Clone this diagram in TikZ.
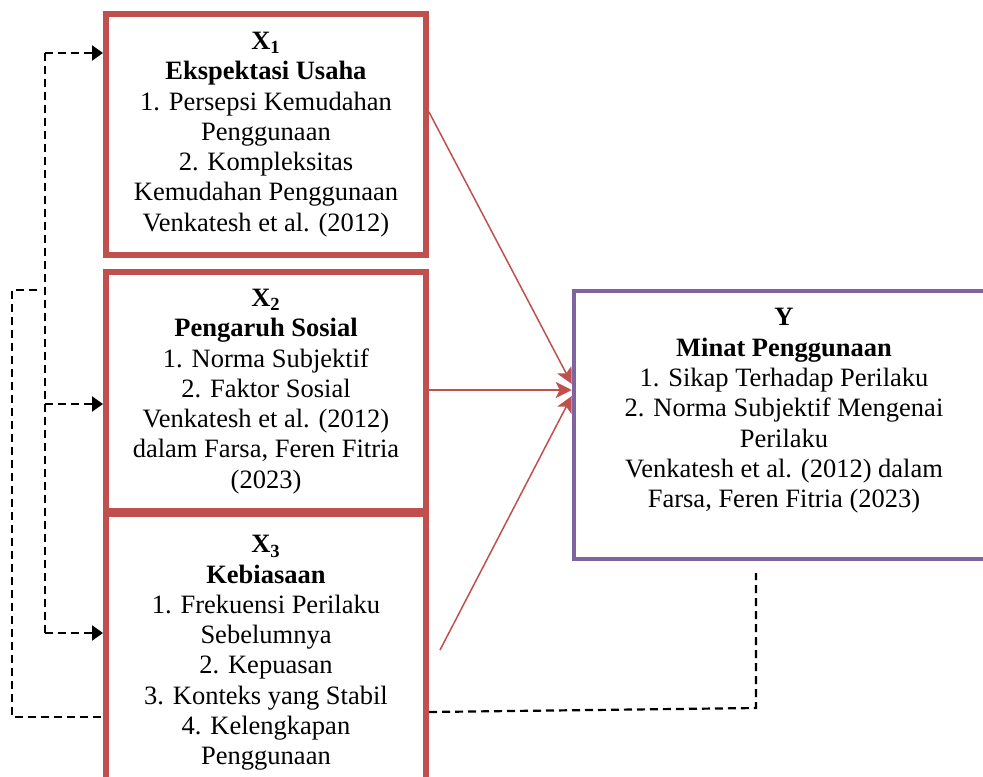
\documentclass[tikz,border=0pt]{standalone}
\usepackage{fontspec}
\setmainfont{Liberation Serif}
\usepackage{tikz}
\usetikzlibrary{arrows.meta}

\definecolor{boxred}{HTML}{C0504D}
\definecolor{boxpurple}{HTML}{8064A2}

\begin{document}
\begin{tikzpicture}[x=0.5pt,y=-0.5pt,
	txt/.style={align=center,font=\fontsize{13.25}{15.15}\selectfont},
	varbox/.style={txt,draw=boxred,line width=3pt,minimum width=160pt,inner sep=0pt},
	ybox/.style={draw=boxpurple,line width=2.25pt,minimum width=210pt,minimum height=134pt},
	link/.style={draw=boxred,line width=0.75pt,-{Stealth[length=8pt,width=8pt,inset=2pt]}},
	back/.style={dash pattern=on 4pt off 2.5pt,line width=1.1pt},
	backarrow/.style={back,-{Triangle[length=5.5pt,width=7.5pt]}}]
	\useasboundingbox (0,0) rectangle (983,776);
	\clip (0,0) rectangle (983,776);
	% variabel bebas
	\node[varbox,minimum height=120.5pt] (X1) at (266,134.5) {\textbf{X\textsubscript{1}}\\\textbf{Ekspektasi Usaha}\\1. Persepsi Kemudahan\\Penggunaan\\2. Kompleksitas\\Kemudahan Penggunaan\\Venkatesh et al. (2012)};
	\node[varbox,minimum height=119.5pt] (X2) at (266,391.5) {\textbf{X\textsubscript{2}}\\\textbf{Pengaruh Sosial}\\1. Norma Subjektif\\2. Faktor Sosial\\Venkatesh et al. (2012)\\dalam Farsa, Feren Fitria\\(2023)};
	\node[varbox,minimum height=139pt] (X3) at (266,653) {\textbf{X\textsubscript{3}}\\\textbf{Kebiasaan}\\1. Frekuensi Perilaku\\Sebelumnya\\2. Kepuasan\\3. Konteks yang Stabil\\4. Kelengkapan\\Penggunaan};
	% variabel terikat
	\node[ybox] (Y) at (784,425) {};
	\node[txt] (Ytext) at (784,411) {\textbf{Y}\\\textbf{Minat Penggunaan}\\1. Sikap Terhadap Perilaku\\2. Norma Subjektif Mengenai\\Perilaku\\Venkatesh et al. (2012) dalam\\Farsa, Feren Fitria (2023)};
	% pengaruh
	\draw[link] ([yshift=11.25pt]X1.east) -- ([yshift=20.5pt]Y.west);
	\draw[link] ([yshift=0.75pt]X2.east) -- ([yshift=17.5pt]Y.west);
	\draw[link] ([xshift=5.5pt,yshift=1.5pt]X3.east) -- ([yshift=14.5pt]Y.west);
	% garis putus-putus
	\coordinate (d1) at (45,53);
	\coordinate (d2) at (45,404);
	\coordinate (d3) at (45,633);
	\draw[back] (d1) -- (d3);
	\draw[backarrow] (d1) -- (d1 -| X1.west);
	\draw[backarrow] (d2) -- (d2 -| X2.west);
	\draw[backarrow] (d3) -- (d3 -| X3.west);
	\coordinate (o1) at (37,290);
	\coordinate (o2) at (12,290);
	\coordinate (o3) at (12,717);
	\draw[back] (o1) -- (o2) -- (o3) -- (o3 -| X3.west);
	\coordinate (b1) at (756,708);
	\coordinate (b2) at (756,573);
	\draw[back] (X3.east |- 0,712) -- (b1) -- (b2);
\end{tikzpicture}
\end{document}
